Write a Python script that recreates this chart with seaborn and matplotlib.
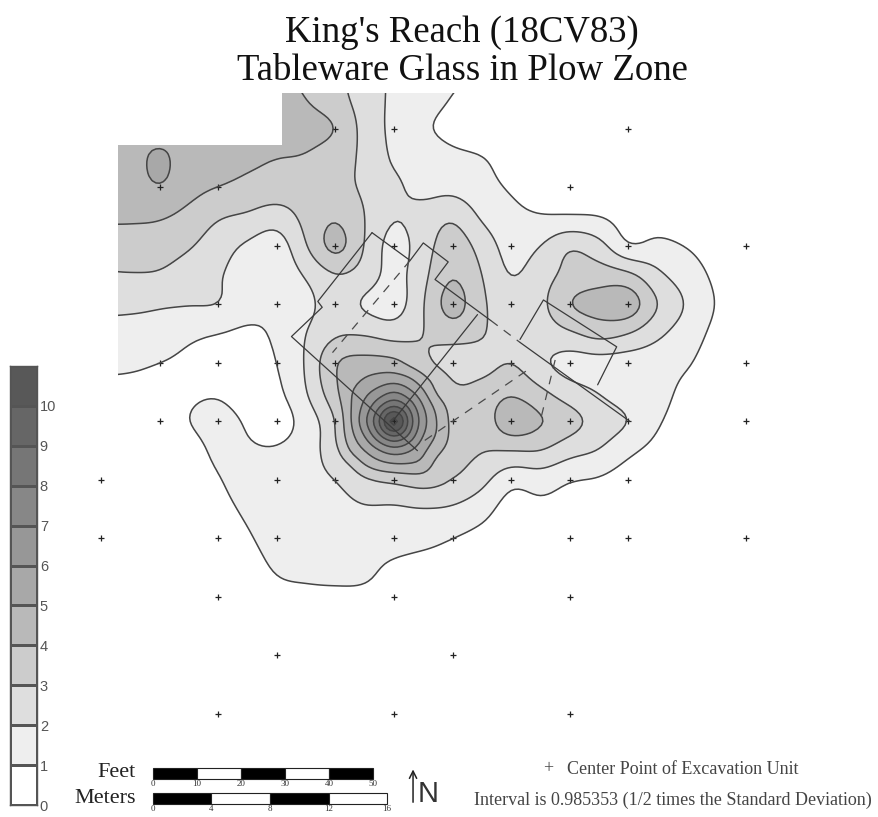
"""
King's Reach (18CV83) - tableware glass density in the plow zone.
Density values are read off the published contour map on a 2 m grid,
with a 1 m table around the central peak where the rings are tight.
"""

import numpy as np
import matplotlib
matplotlib.use('Agg')
import matplotlib.pyplot as plt
from matplotlib.colors import ListedColormap
from matplotlib.patches import Polygon
import seaborn as sns

# ── Data: map grid, metres east / north of the SW unit ────────────────────
east = np.arange(0, 48, 2)
north = np.arange(44, 2, -2)

density = np.array([
    [5.0, 5.0, 5.0, 5.0, 5.0, 5.0, 4.3, 3.7, 3.2, 2.5, 1.85, 1.5, 1.2, .9, .5, .2, .2, .1, .1, 0, 0, 0, 0, 0],
    [4.7, 4.7, 4.6, 4.7, 4.7, 4.7, 4.5, 4.0, 3.4, 2.55, 1.8, 1.4, .95, .6, .3, .2, .1, .1, .1, 0, 0, 0, 0, 0],
    [4.7, 4.6, 4.3, 4.6, 4.6, 4.6, 4.6, 4.4, 4.0, 2.65, 1.75, 1.15, .7, .4, .3, .2, .2, .1, .1, .1, 0, 0, 0, 0],
    [4.6, 4.4, 5.35, 4.2, 4.4, 4.2, 4.0, 3.9, 3.4, 2.8, 1.85, 1.55, 1.25, 1.05, .6, .4, .3, .2, .1, .1, 0, 0, 0, 0],
    [4.4, 4.5, 4.95, 4.3, 4.0, 3.75, 3.6, 3.5, 3.3, 2.85, 2.2, 1.7, 1.7, 1.3, .9, .6, .45, .3, .2, .1, .1, 0, 0, 0],
    [4.15, 4.15, 4.1, 3.7, 3.1, 2.85, 2.5, 3.3, 3.9, 3.0, 2.05, 2.4, 2.85, 1.85, 1.25, 1.05, 1.05, 1.0, .6, .5, .3, .1, .1, 0],
    [3.5, 3.5, 3.45, 3.1, 2.45, 1.85, 1.5, 2.95, 4.35, 2.95, 1.6, 2.55, 3.55, 2.6, 1.6, 2.0, 2.9, 2.35, 1.05, 1.25, .95, .5, .2, .1],
    [2.9, 2.95, 2.9, 2.5, 2.1, 1.5, 1.35, 2.1, 2.95, 2.6, 1.65, 2.75, 3.95, 3.0, 1.95, 2.55, 3.3, 3.5, 3.25, 2.2, 1.5, .8, .3, .1],
    [2.3, 2.25, 2.1, 2.05, 2.0, 1.35, 1.2, 1.7, 2.5, 1.85, 1.5, 2.95, 4.45, 3.15, 2.5, 2.75, 4.0, 4.4, 4.6, 3.0, 1.9, .95, .4, .1],
    [1.6, 1.55, 1.55, 1.2, 1.0, .85, 1.15, 2.0, 2.85, 2.9, 2.6, 3.0, 3.45, 3.1, 2.4, 2.5, 2.85, 3.35, 3.0, 2.2, 1.5, .75, .3, .1],
    [1.3, 1.2, 1.0, .8, .6, .6, 1.0, 2.1, 4.0, 4.4, 4.35, 3.3, 2.45, 2.6, 3.0, 2.2, 1.6, 1.6, 1.5, 1.4, 1.1, .5, .25, .1],
    [.6, .6, .6, .85, .9, .6, .8, 1.95, 3.8, 5.7, 7.1, 5.2, 3.3, 3.4, 3.85, 3.2, 2.45, 1.95, 1.5, 1.3, .75, .35, .15, .05],
    [.3, .3, .5, 1.0, 1.3, .9, .55, 1.45, 3.0, 6.8, 12.4, 6.4, 3.7, 3.45, 4.7, 4.1, 3.4, 2.6, 2.0, 1.1, .6, .3, .2, .05],
    [.15, .2, .3, .6, 1.2, 1.1, 1.1, 1.55, 2.7, 5.0, 6.5, 5.2, 3.6, 3.05, 3.0, 3.0, 2.35, 1.95, 1.2, .7, .3, .15, .1, 0],
    [.15, .15, .2, .4, .95, 1.3, 1.4, 1.7, 2.0, 2.8, 3.25, 3.5, 3.0, 2.3, 1.3, 1.45, 1.05, .9, .5, .25, .1, .05, 0, 0],
    [.1, .1, .15, .3, .7, 1.15, 1.35, 1.4, 1.65, 1.9, 1.85, 1.95, 1.85, 1.35, .6, .75, .6, .4, .2, .1, 0, 0, 0, 0],
    [.1, .1, .1, .2, .35, .9, 1.3, 1.3, 1.3, 1.35, 1.4, 1.3, 1.0, .7, .45, .3, .2, .1, .05, 0, 0, 0, 0, 0],
    [0, 0, .05, .1, .2, .6, 1.1, 1.2, 1.2, 1.15, .85, .6, .5, .35, .2, .1, .05, 0, 0, 0, 0, 0, 0, 0],
    [0, 0, 0, .05, .1, .3, .7, .8, .85, .85, .7, .3, .2, .1, .05, 0, 0, 0, 0, 0, 0, 0, 0, 0],
    [0, 0, 0, 0, 0, .1, .3, .4, .4, .4, .3, .15, .1, 0, 0, 0, 0, 0, 0, 0, 0, 0, 0, 0],
    [0, 0, 0, 0, 0, 0, 0, 0, 0, 0, 0, 0, 0, 0, 0, 0, 0, 0, 0, 0, 0, 0, 0, 0],
])

# 1 m table, 16-24 m east, 24-16 m north
peak_density = np.array([
    [4.0, 4.3, 4.4, 4.4, 4.35, 3.7, 3.3, 2.8, 2.45],
    [4.0, 4.5, 5.0, 5.3, 5.4, 5.1, 4.2, 3.5, 2.95],
    [3.8, 4.9, 5.7, 6.4, 7.1, 6.3, 5.2, 3.7, 3.3],
    [3.4, 4.9, 6.3, 7.9, 9.1, 7.9, 6.0, 4.6, 3.6],
    [3.0, 4.9, 6.8, 9.1, 12.4, 8.8, 6.4, 4.9, 3.7],
    [3.05, 4.6, 6.0, 7.8, 9.1, 7.9, 5.9, 4.85, 3.7],
    [2.7, 4.1, 5.0, 5.9, 6.5, 6.05, 5.2, 4.2, 3.6],
    [2.4, 2.95, 4.0, 4.6, 4.85, 4.9, 4.7, 3.5, 3.3],
    [2.0, 2.4, 2.8, 3.1, 3.25, 3.4, 3.5, 3.3, 3.0],
])

# centre points of the excavation units
unit_east = [16, 20, 36,
             4, 8, 32,
             12, 16, 20, 24, 28, 36, 44,
             8, 12, 16, 20, 24, 28, 32, 36,
             4, 8, 12, 16, 20, 24, 28, 32, 36, 44,
             4, 8, 12, 16, 20, 24, 28, 32, 36, 44,
             0, 12, 16, 20, 24, 28, 32, 36,
             0, 8, 12, 20, 24, 32, 36, 44,
             8, 20, 32,
             12, 24,
             8, 20, 32]
unit_north = [40] * 3 + [36] * 3 + [32] * 7 + [28] * 8 + [24] * 10 + [20] * 10 \
    + [16] * 8 + [12] * 8 + [8] * 3 + [4] * 2 + [0] * 3

# solid and dashed wall lines of the structure
walls = [
    ([18.5, 14.8, 15.1, 13.0, 21.6], [32.9, 28.2, 27.8, 25.8, 18.0]),
    ([18.5, 21.1, 22.0, 23.7, 22.8, 26.6], [32.9, 31.0, 32.2, 30.9, 29.7, 26.9]),
    ([28.6, 36.1], [25.4, 20.0]),
    ([33.9, 35.2, 30.2, 28.6], [22.5, 25.1, 28.3, 25.6]),
    ([19.9, 25.7], [20.0, 27.3]),
]
dashed_walls = [
    ([21.1, 15.8], [31.0, 24.7]),
    ([26.6, 28.6], [26.9, 25.4]),
    ([22.1, 29.1], [18.7, 23.5]),
    ([31.0, 30.0], [24.2, 20.1]),
]

class_colors = ['#ffffff', '#eeeeee', '#dedede', '#cccccc', '#b9b9b9', '#a8a8a8',
                '#979797', '#878787', '#767676', '#666666', '#585858']
class_edges = [-1, 1, 2, 3, 4, 5, 6, 7, 8, 9, 10, 14]
ring_levels = [1, 2, 3, 4, 5, 6, 7, 8, 9, 10, 11]
legend_labels = ['10', '9', '8', '7', '6', '5', '4', '3', '2', '1', '0']

feet_ticks = [0, 10, 20, 30, 40, 50]
meter_ticks = [0, 4, 8, 12, 16]

title_text = "King's Reach (18CV83)\nTableware Glass in Plow Zone"
note_text = "Interval is 0.985353 (1/2 times the Standard Deviation)"
key_text = "Center Point of Excavation Unit"

W, H = 879, 817
M_FOOT = 0.301  # the feet bar as drawn on the map
SERIF = 'Liberation Serif'


def smooth_axis(z, k):
    # Catmull-Rom along axis 0, so the contour lines come out round
    p = np.pad(z, ((1, 1), (0, 0)), mode='edge')
    t = (np.arange(k) / k)[None, :, None]
    a, b, c, d = p[:-3, None], p[1:-2, None], p[2:-1, None], p[3:, None]
    out = 0.5 * (2 * b + (c - a) * t + (2 * a - 5 * b + 4 * c - d) * t ** 2
                 + (3 * b - a - 3 * c + d) * t ** 3)
    return np.concatenate([out.reshape(-1, z.shape[1]), z[-1:]])


def soften(z, passes=2):
    # small binomial filter, takes the lumps of the hand-read grid out
    w = np.array([1, 4, 6, 4, 1]) / 16
    for _ in range(passes):
        z = np.apply_along_axis(lambda v: np.convolve(np.pad(v, 2, mode='edge'), w, mode='valid'), 0, z)
        z = np.apply_along_axis(lambda v: np.convolve(np.pad(v, 2, mode='edge'), w, mode='valid'), 1, z)
    return z


K = 8
fine = smooth_axis(smooth_axis(density, K).T, K).T
fine_east = np.linspace(east[0], east[-1], fine.shape[1])
fine_north = np.linspace(north[0], north[-1], fine.shape[0])
# drop the finer peak table into its window
fine[80:113, 64:97] = smooth_axis(smooth_axis(peak_density, K // 2).T, K // 2).T
fine = soften(fine)

sns.set_theme(style='white')
plt.rcParams['font.family'] = [SERIF, 'DejaVu Serif']

fig = plt.figure(figsize=(W / 100, H / 100), dpi=100, facecolor='white')
ax = fig.add_axes([0, 0, 1, 1])
ax.set_xlim(-101 / 14.65, (W - 101) / 14.65)
ax.set_ylim((714 - H) / 14.63, 714 / 14.63)
ax.axis('off')

# ── Contour map ───────────────────────────────────────────────────────────
# surveyed block has a missing NW corner
block = Polygon([(1.16, 3), (1.16, 38.9), (12.35, 38.9), (12.35, 42.45), (48, 42.45), (48, 3)],
                closed=True, transform=ax.transData, facecolor='none', edgecolor='none')
ax.add_patch(block)
filled = ax.contourf(fine_east, fine_north, fine, levels=class_edges, colors=class_colors)
lines = ax.contour(fine_east, fine_north, fine, levels=ring_levels,
                   colors='#454545', linewidths=1.1)
filled.set_clip_path(block)
lines.set_clip_path(block)

for xs, ys in walls:
    ax.plot(xs, ys, color='#3a3a3a', lw=0.9)
for xs, ys in dashed_walls:
    ax.plot(xs, ys, color='#4a4a4a', lw=0.9, ls=(0, (7, 6)))

sns.scatterplot(x=unit_east, y=unit_north, marker='+', s=14, color='#222222',
                linewidth=0.9, legend=False, ax=ax)
ax.set_xlabel('')
ax.set_ylabel('')

# ── Class legend ──────────────────────────────────────────────────────────
lax = fig.add_axes([10 / W, 1 - 805 / H, 27 / W, 439 / H])
legend_grid = np.arange(len(class_colors) - 1, -1, -1).reshape(-1, 1)
sns.heatmap(legend_grid, cmap=ListedColormap(class_colors), cbar=False, ax=lax,
            linewidths=0.8, linecolor='#555555', xticklabels=False)
lax.yaxis.tick_right()
lax.set_yticks(np.arange(1, len(class_colors) + 0.5))
lax.set_yticklabels(legend_labels, rotation=0, family='Liberation Sans',
                    fontsize=10.5, color='#555555')
lax.tick_params(axis='y', length=0, pad=2)
for sp in lax.spines.values():
    sp.set_visible(True)
    sp.set_color('#555555')
    sp.set_linewidth(1.0)

# ── Scale bars ────────────────────────────────────────────────────────────
BAR_X = 3.53
for row, ticks, scale in [(-4.07, feet_ticks, M_FOOT), (-5.78, meter_ticks, 1.0)]:
    for i in range(len(ticks) - 1):
        ax.barh(row, (ticks[i + 1] - ticks[i]) * scale, left=BAR_X + ticks[i] * scale, height=0.72,
                color='black' if i % 2 == 0 else 'white', edgecolor='#222222', linewidth=0.8)
    for t in ticks:
        ax.text(BAR_X + t * scale, row - 0.42, str(t), ha='center', va='top',
                fontsize=6.5, color='#333333')

ax.text(136 / 14.65 - 6.894, -4.0, 'Feet', ha='right', va='center', fontsize=16, color='#222222')
ax.text(136 / 14.65 - 6.894, -5.8, 'Meters', ha='right', va='center', fontsize=16, color='#222222')

# north arrow
ax.annotate('', xy=(21.3, -3.6), xytext=(21.3, -6.22),
            arrowprops=dict(arrowstyle='->', color='#222222', lw=1.1, mutation_scale=13))
ax.text(21.64, -5.5, 'N', family='Liberation Sans', fontsize=21, ha='left',
        va='center', color='#333333')

# ── Text ──────────────────────────────────────────────────────────────────
fig.text(462 / W, 1 - 52 / H, title_text, ha='center', va='center', fontsize=26.5,
         linespacing=1.13, color='#111111')
fig.text(548 / W, 1 - 769 / H, '+', ha='center', va='center', fontsize=13, color='#444444')
fig.text(567 / W, 1 - 769 / H, key_text, ha='left', va='center', fontsize=13, color='#444444')
fig.text(474 / W, 1 - 800 / H, note_text, ha='left', va='center', fontsize=13, color='#444444')

fig.savefig('out.png', dpi=100, facecolor='white')
plt.close(fig)
